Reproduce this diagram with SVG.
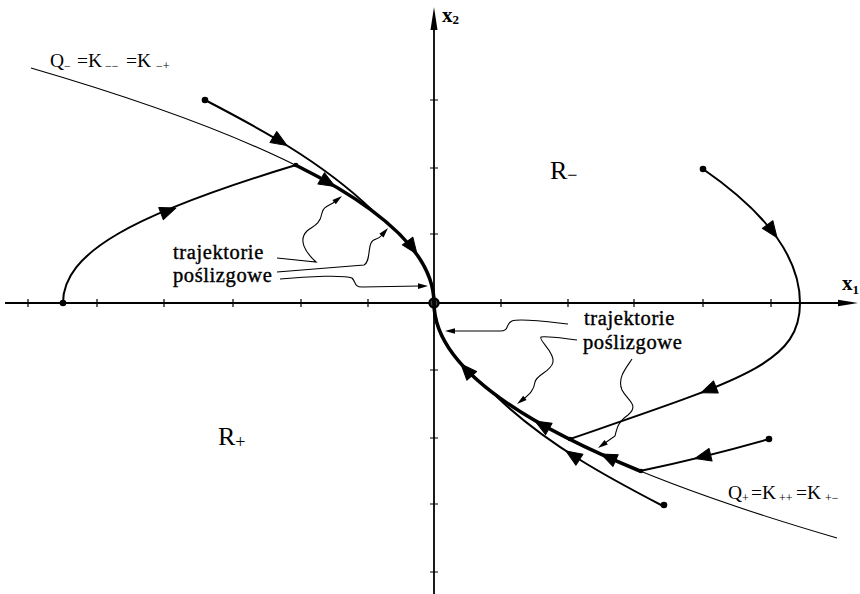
<svg xmlns="http://www.w3.org/2000/svg" width="860" height="594" viewBox="0 0 860 594">
<style>
.axis{stroke:#000;stroke-width:1.8;fill:none}
.tick{stroke:#000;stroke-width:1.2;fill:none}
.sw{stroke:#000;stroke-width:1.1;fill:none}
.tr{stroke:#000;stroke-width:2;fill:none}
.sl{stroke:#000;stroke-width:3.6;fill:none;stroke-linecap:round}
.ld{stroke:#000;stroke-width:1.1;fill:none}
text{font-family:'Liberation Serif','DejaVu Serif','Times New Roman',serif;fill:#000}
.bt{stroke:#000;stroke-width:0.4;font-size:20.5px;letter-spacing:0.6px}
.ax{font-weight:bold}
</style>
<defs>
<path id="ah" d="M0 0 L-16 -6.5 L-16 6.5 Z" fill="#000" stroke="#000" stroke-width="1" stroke-linejoin="round"/>
<path id="la" d="M0 0 L-10 -2.8 L-10 2.8 Z" fill="#000"/>
</defs>
<rect width="860" height="594" fill="#fff"/>

<g id="axes">
<line class="axis" x1="5" y1="303" x2="845" y2="303"/>
<path d="M858 303 L838 299.8 L838 306.2 Z" fill="#000"/>
<line class="axis" x1="434" y1="594" x2="434" y2="22"/>
<path d="M434 7 L430.5 30 L437.5 30 Z" fill="#000"/>
<g id="ticks">
<path class="tick" d="M28 299 V307 M97 299 V307 M164 299 V307 M233 299 V307 M301 299 V307 M368 299 V307 M501 299 V307 M568 299 V307 M634 299 V307 M703 299 V307 M771 299 V307"/>
<path class="tick" d="M430 100 H438 M430 168 H438 M430 234 H438 M430 370 H438 M430 438 H438 M430 504 H438 M430 572 H438"/>
</g>
<circle cx="434" cy="303" r="4.5" fill="#444" stroke="#000" stroke-width="2.4"/>
<text class="ax" x="842" y="290" font-size="21">x<tspan font-size="13" dy="4">1</tspan></text>
<text class="ax" x="442" y="22" font-size="21">x<tspan font-size="13" dy="2">2</tspan></text>
</g>

<g id="switching-curves">
<path id="Qminus" class="sw" d="M31 68 Q434 185.5 434 303"/>
<path id="Qplus" class="sw" d="M837 538 Q434 420.5 434 303"/>
<text y="67" font-size="19.5"><tspan x="50">Q</tspan><tspan x="64" dy="3" font-size="12">−</tspan><tspan x="77" dy="-3">=K</tspan><tspan x="105" dy="3" font-size="12">−−</tspan><tspan x="126" dy="-3">=K</tspan><tspan x="156" dy="3" font-size="12">−+</tspan></text>
<text y="499" font-size="19.5"><tspan x="728">Q</tspan><tspan x="742" dy="3" font-size="12">+</tspan><tspan x="751" dy="-3">=K</tspan><tspan x="779" dy="3" font-size="12">++</tspan><tspan x="796" dy="-3">=K</tspan><tspan x="825" dy="3" font-size="12">+−</tspan></text>
</g>

<g id="regions">
<text x="550" y="179" font-size="26">R<tspan font-size="18" dy="2">−</tspan></text>
<text x="218" y="445" font-size="26">R<tspan font-size="18" dy="3">+</tspan></text>
</g>

<g id="trajectories">
<path id="t-left" class="tr" d="M63 303 C63 253 131 215 296 165"/>
<path id="t-upper" class="tr" d="M205 100 C255 126 320 160 372 210"/>
<path id="t-right" class="tr" d="M703 169 Q800 236 800 303 C800 363 744 379 570 439"/>
<path id="t-lowright" class="tr" d="M769 439 Q706 457 640 471"/>
<path id="t-lower" class="tr" d="M663 506 C613 480 548 446 496 396"/>
<path id="slide-upper" class="sl" d="M295.5 165 Q434 234 434 303"/>
<path id="slide-lower" class="sl" d="M640 471 Q434 387 434 303"/>
</g>

<g id="arrowheads">
<use href="#ah" transform="translate(176 208) rotate(-20.5)"/>
<use href="#ah" transform="translate(287 145.5) rotate(31.7)"/>
<use href="#ah" transform="translate(335 186.5) rotate(30.3)"/>
<use href="#ah" transform="translate(417 254) rotate(53.9)"/>
<use href="#ah" transform="translate(777 237.5) rotate(54)"/>
<use href="#ah" transform="translate(701 392.8) rotate(158.7)"/>
<use href="#ah" transform="translate(695 458.5) rotate(166.4)"/>
<use href="#ah" transform="translate(601 454) rotate(204.2)"/>
<use href="#ah" transform="translate(535 421) rotate(209.9)"/>
<use href="#ah" transform="translate(461 364) rotate(227.9)"/>
<use href="#ah" transform="translate(566 451) rotate(213)"/>
</g>

<g id="points">
<circle cx="63" cy="303" r="3.3"/>
<circle cx="205" cy="100" r="3.3"/>
<circle cx="703" cy="169" r="3.3"/>
<circle cx="769" cy="439" r="3.3"/>
<circle cx="664" cy="505" r="3.3"/>
<circle cx="296" cy="165" r="2.3"/>
<circle cx="570" cy="439" r="2.3"/>
<circle cx="641" cy="471" r="2.3"/>
</g>

<g id="label-left">
<text class="bt" x="173" y="259">trajektorie</text>
<text class="bt" x="173" y="282">poślizgowe</text>
</g>
<g id="label-right">
<text class="bt" x="584" y="325">trajektorie</text>
<text class="bt" x="583" y="349">poślizgowe</text>
</g>

<g id="leaders">
<path class="ld" d="M277 258 L316 262 C305 252 298 240 307 231 C313 226 320 225 322 213 C323 207 328 206 333 203 L336 200.5"/>
<use href="#la" transform="translate(342 196) rotate(-38)"/>
<path class="ld" d="M277 272 L364 265 C370 262 368 250 371 243 C373 238 378 240 381 236 L383 233"/>
<use href="#la" transform="translate(388 228) rotate(-49)"/>
<path class="ld" d="M280 279 C310 276 345 275 352 278 C356 282 354 287 362 287 L420 286"/>
<use href="#la" transform="translate(428 286) rotate(-1)"/>
<path class="ld" d="M568 324 C550 322 520 318 512 321 C505 324 510 331 500 331 L452 331"/>
<use href="#la" transform="translate(445 331) rotate(180)"/>
<path class="ld" d="M577 340 C560 338 548 336 541 337 C538 340 555 352 553 362 C551 372 537 374 535 382 C534 390 530 394 523 399.5"/>
<use href="#la" transform="translate(517 404) rotate(142)"/>
<path class="ld" d="M632 359 C626 368 617 378 622 390 C627 400 640 405 628 415 C618 422 617 428 615 436 L605 443"/>
<use href="#la" transform="translate(598 448) rotate(145)"/>
</g>
</svg>
